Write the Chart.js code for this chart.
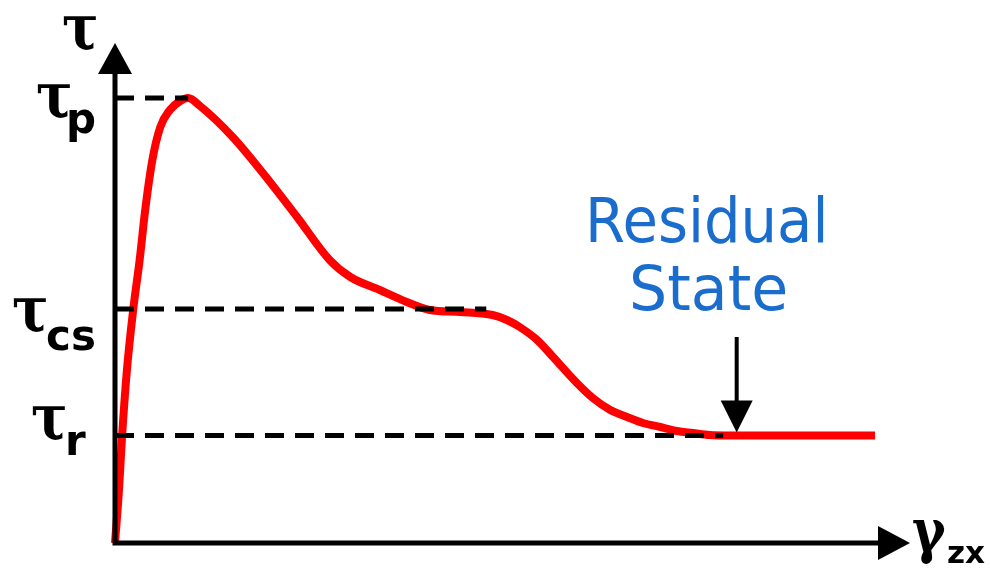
<!DOCTYPE html>
<html>
<head>
<meta charset="utf-8">
<script src="https://cdn.jsdelivr.net/npm/chart.js@4/dist/chart.umd.min.js"></script>
<style>
  html, body { margin: 0; padding: 0; background: #ffffff; }
  #wrap { width: 990px; height: 571px; position: relative; }
</style>
</head>
<body>
<div id="wrap"><canvas id="chart"></canvas></div>
<script>
// Shear strain (gamma_zx) and shear stress (tau) along the stress-strain curve
const strainValues = [0, 0.05, 0.09, 0.15, 0.23, 0.31, 0.38, 0.47, 0.57, 0.69, 0.82, 0.92,
  1.07, 1.48, 1.86, 2.29, 2.70, 2.96, 3.33, 3.67, 3.96, 4.34, 4.75, 4.93, 5.09, 5.31, 5.51,
  5.81, 6.01, 6.23, 6.44, 6.64, 6.86, 7.07, 7.27, 7.48, 7.74, 9.56];
const stressValues = [0, 1.06, 2.16, 3.46, 4.68, 5.66, 6.66, 7.66, 8.32, 8.66, 8.84, 8.90,
  8.74, 8.12, 7.40, 6.52, 5.66, 5.32, 5.06, 4.82, 4.66, 4.62, 4.56, 4.46, 4.32, 4.06, 3.72,
  3.20, 2.90, 2.66, 2.52, 2.40, 2.32, 2.24, 2.20, 2.16, 2.15, 2.15];

// Characteristic stress levels: peak, critical state, residual
const levelSubscripts = ['p', 'cs', 'r'];
const levelStress = [8.90, 4.68, 2.15];
const levelStrainEnd = [0.92, 4.67, 7.65];

// Residual state marker
const residualStrain = 7.82;
const residualArrowTop = 4.12;
const residualLabel = ['Residual', 'State'];

const axisLabelY = 'τ';
const axisLabelX = ['γ', 'zx'];

const curve = strainValues.map((x, i) => ({ x: x, y: stressValues[i] }));

const levelSets = levelStress.map((v, i) => ({
  label: 'τ' + levelSubscripts[i],
  data: [{ x: 0, y: v }, { x: levelStrainEnd[i], y: v }],
  borderColor: '#000000',
  borderWidth: 5,
  borderDash: [19, 11],
  pointRadius: 0,
  fill: false,
  tension: 0,
  clip: false,
  order: 1
}));

// Label offsets (pixels) relative to each level line
const levelLabelLayout = [
  { tauX: 36, tauDy: 19, subX: 66, subDy: 35 },
  { tauX: 12, tauDy: 22, subX: 46, subDy: 41 },
  { tauX: 31, tauDy: 3, subX: 65, subDy: 19 }
];

function fillArrow(ctx, tipX, tipY, baseX1, baseY1, baseX2, baseY2) {
  ctx.beginPath();
  ctx.moveTo(tipX, tipY);
  ctx.lineTo(baseX1, baseY1);
  ctx.lineTo(baseX2, baseY2);
  ctx.closePath();
  ctx.fill();
}

function squeezedText(ctx, text, x, y, sx) {
  ctx.save();
  ctx.translate(x, y);
  ctx.scale(sx, 1);
  ctx.fillText(text, 0, 0);
  ctx.restore();
}

// Greek symbol drawn in a serif face, slightly condensed
function greek(ctx, text, x, y, size) {
  ctx.save();
  ctx.font = 'bold ' + size + 'px "DejaVu Serif"';
  ctx.translate(x, y);
  ctx.scale(0.85, 1);
  ctx.fillText(text, 0, 0);
  ctx.restore();
}

const decorations = {
  id: 'decorations',
  afterDatasetsDraw(chart) {
    const ctx = chart.ctx;
    const xs = chart.scales.x, ys = chart.scales.y;
    const ox = xs.getPixelForValue(0), oy = ys.getPixelForValue(0);
    const top = ys.getPixelForValue(ys.max), right = xs.getPixelForValue(xs.max);

    ctx.save();
    ctx.fillStyle = '#000000';
    ctx.strokeStyle = '#000000';
    ctx.lineWidth = 5;
    ctx.lineCap = 'butt';
    // axes
    ctx.beginPath();
    ctx.moveTo(ox, top + 26);
    ctx.lineTo(ox, oy);
    ctx.lineTo(right - 28, oy);
    ctx.stroke();
    fillArrow(ctx, ox, top, ox - 17, top + 31, ox + 17, top + 31);
    fillArrow(ctx, right, oy, right - 32, oy - 17, right - 32, oy + 17);

    // residual state arrow
    const ax = xs.getPixelForValue(residualStrain);
    const aTop = ys.getPixelForValue(residualArrowTop);
    const aTip = ys.getPixelForValue(levelStress[2]) - 3;
    ctx.lineWidth = 4;
    ctx.beginPath();
    ctx.moveTo(ax, aTop);
    ctx.lineTo(ax, aTip - 28);
    ctx.stroke();
    fillArrow(ctx, ax, aTip, ax - 16, aTip - 32, ax + 16, aTip - 32);

    // axis labels
    ctx.textBaseline = 'alphabetic';
    ctx.textAlign = 'left';
    greek(ctx, axisLabelY, ox - 53, top + 6, 64);
    greek(ctx, axisLabelX[0], right + 2, oy + 9, 60);
    ctx.font = 'bold 31px "DejaVu Sans"';
    ctx.fillText(axisLabelX[1], right + 37, oy + 20);

    // stress level labels
    levelStress.forEach((v, i) => {
      const py = ys.getPixelForValue(v);
      const L = levelLabelLayout[i];
      greek(ctx, 'τ', L.tauX, py + L.tauDy, 64);
      ctx.font = 'bold 42px "DejaVu Sans"';
      ctx.fillText(levelSubscripts[i], L.subX, py + L.subDy);
    });

    // residual state caption
    ctx.fillStyle = '#1a6dcc';
    ctx.textAlign = 'center';
    ctx.font = '62px "DejaVu Sans"';
    squeezedText(ctx, residualLabel[0], ax - 30, aTop - 95, 0.93);
    squeezedText(ctx, residualLabel[1], ax - 28, aTop - 27, 0.97);
    ctx.restore();
  }
};

new Chart(document.getElementById('chart'), {
  type: 'line',
  data: {
    datasets: [
      {
        label: 'τ',
        data: curve,
        borderColor: '#ff0000',
        borderWidth: 8,
        pointRadius: 0,
        fill: false,
        cubicInterpolationMode: 'monotone',
        clip: false,
        order: 2
      },
      ...levelSets
    ]
  },
  options: {
    responsive: true,
    maintainAspectRatio: false,
    animation: false,
    layout: { padding: { left: 115, right: 80, top: 43, bottom: 28 } },
    scales: {
      x: { type: 'linear', min: 0, max: 10, display: false },
      y: { type: 'linear', min: 0, max: 10, display: false }
    },
    plugins: { legend: { display: false }, tooltip: { enabled: false } }
  },
  plugins: [decorations]
});
</script>
</body>
</html>
